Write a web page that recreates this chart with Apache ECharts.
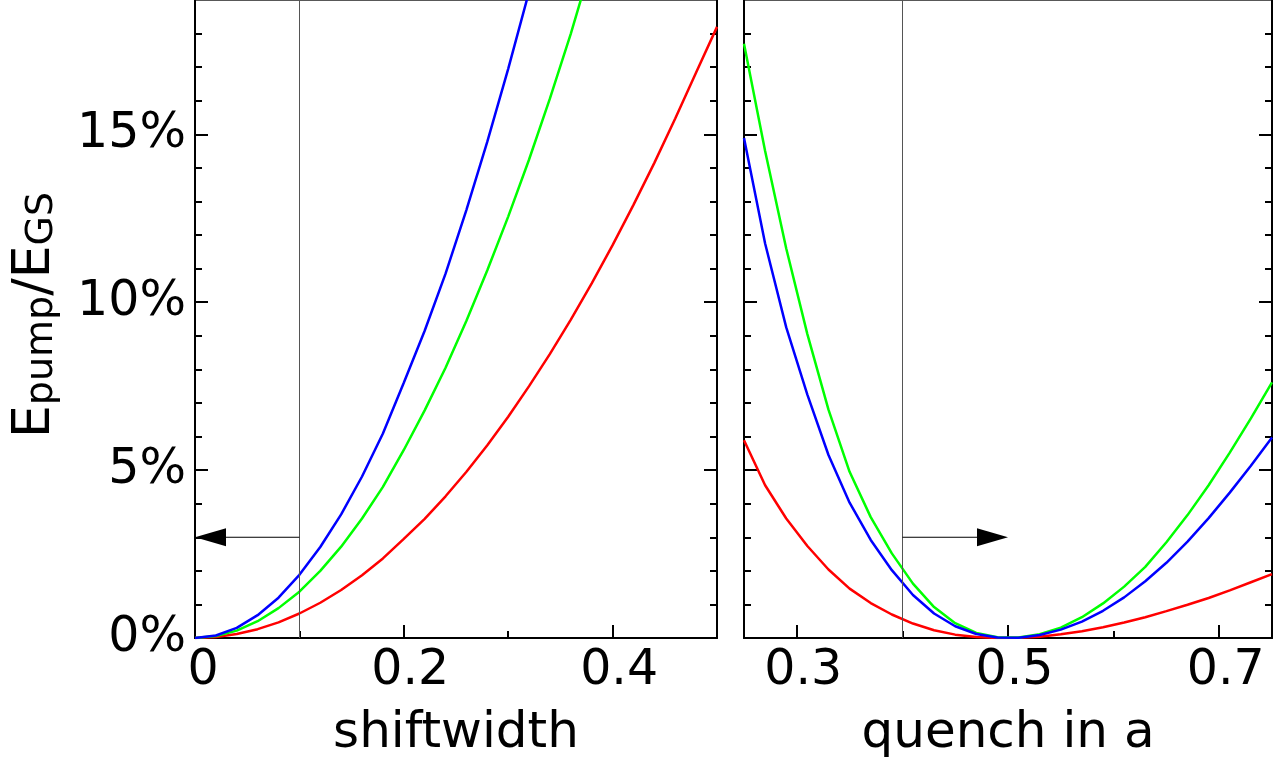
<!DOCTYPE html>
<html><head><meta charset="utf-8">
<script src="https://cdn.jsdelivr.net/npm/echarts@6/dist/echarts.min.js"></script>
<style>html,body{margin:0;padding:0;background:#fff}#c{width:1284px;height:763px}</style>
</head><body><div id="c"></div>
<script>
// ---- data ----
const shiftwidth = [0,0.02,0.04,0.06,0.08,0.10,0.12,0.14,0.16,0.18,0.20,0.22,0.24,0.26,0.28,0.30,0.32,0.34,0.36,0.38,0.40,0.42,0.44,0.46,0.48,0.50];
const blueShift  = [0,0.075,0.30,0.68,1.20,1.88,2.71,3.68,4.81,6.09,7.60,9.15,10.85,12.75,14.78,16.95,19.25,21.7];
const greenShift = [0,0.056,0.22,0.50,0.89,1.38,2.00,2.72,3.56,4.50,5.60,6.78,8.05,9.45,10.95,12.55,14.25,16.07,18.0,20.1];
const redShift   = [0,0.029,0.117,0.263,0.467,0.73,1.05,1.43,1.87,2.37,2.95,3.55,4.22,4.95,5.74,6.59,7.50,8.46,9.48,10.56,11.70,12.90,14.15,15.47,16.84,18.2];

const quench = [0.25,0.27,0.29,0.31,0.33,0.35,0.37,0.39,0.41,0.43,0.45,0.47,0.49,0.51,0.53,0.55,0.57,0.59,0.61,0.63,0.65,0.67,0.69,0.71,0.73,0.75];
const blueQuench  = [14.89,11.75,9.25,7.25,5.45,4.03,2.92,2.02,1.28,0.73,0.35,0.12,0.015,0.01,0.09,0.25,0.49,0.81,1.21,1.69,2.24,2.87,3.57,4.33,5.13,5.97];
const greenQuench = [17.7,14.5,11.6,9.05,6.8,4.95,3.6,2.52,1.62,0.92,0.44,0.15,0.02,0.013,0.11,0.31,0.62,1.03,1.53,2.12,2.85,3.66,4.55,5.52,6.54,7.61];
const redQuench   = [5.89,4.55,3.56,2.74,2.04,1.47,1.04,0.70,0.43,0.23,0.10,0.03,0.003,0.004,0.04,0.11,0.20,0.32,0.46,0.62,0.80,0.99,1.19,1.42,1.66,1.90];

const yMajor = [0,5,10,15];
const yMinor = [1,2,3,4,6,7,8,9,11,12,13,14,16,17,18];
const xLeftMajor = [0,0.2,0.4];
const xLeftMinor = [0.1,0.3,0.5];
const xRightMajor = [0.3,0.5,0.7];
const xRightMinor = [0.4,0.6];
const markLeft = 0.1, markRight = 0.4;
const arrowLeft  = [[0.1,3],[0,3]];
const arrowRight = [[0.4,3],[0.5,3]];
const xNameLeft = 'shiftwidth', xNameRight = 'quench in a';

// ---- chart ----
const FONT = 'DejaVu Sans';
const chart = echarts.init(document.getElementById('c'), null, {renderer:'canvas'});
const pairs = (xs, ys) => ys.map((v,i)=>[xs[i], v]);
const tickStyle = {color:'#000', width:2};
const labelRich = {
  z:{fontFamily:FONT, fontSize:49, color:'#000', padding:[0,0,0,16]},
  p:{fontFamily:FONT, fontSize:49, color:'#000', padding:[0,0,0,13]}
};

function xAxes(grid, min, max, major, minor, name, labelFmt){
  return [
    {gridIndex:grid, type:'value', min, max, position:'bottom',
     axisLine:{show:true, lineStyle:{color:'#000', width:2}},
     axisTick:{show:true, inside:true, length:13, customValues:major, lineStyle:tickStyle},
     axisLabel:{show:true, customValues:major, formatter:labelFmt, fontFamily:FONT, fontSize:49, color:'#000', margin:9, rich:labelRich},
     splitLine:{show:false},
     name, nameLocation:'middle', nameGap:71,
     nameTextStyle:{fontFamily:FONT, fontSize:50, color:'#000'}},
    {gridIndex:grid, type:'value', min, max, position:'bottom',
     axisLine:{show:false},
     axisTick:{show:true, inside:true, length:7, customValues:minor, lineStyle:tickStyle},
     axisLabel:{show:false}, splitLine:{show:false}}
  ];
}
function yAxes(grid, withLabels){
  const base = {gridIndex:grid, type:'value', min:0, max:19, splitLine:{show:false}};
  return [
    Object.assign({}, base, {position:'left',
      axisLine:{show:true, lineStyle:{color:'#000', width:2}},
      axisTick:{show:true, inside:true, length:13, customValues:yMajor, lineStyle:tickStyle},
      axisLabel:{show:withLabels, customValues:yMajor, formatter:v=>v+'%', fontFamily:FONT, fontSize:49, color:'#000', margin:9}}),
    Object.assign({}, base, {position:'left', axisLine:{show:false},
      axisTick:{show:true, inside:true, length:7, customValues:yMinor, lineStyle:tickStyle},
      axisLabel:{show:false}}),
    Object.assign({}, base, {position:'right',
      axisLine:{show:true, lineStyle:{color:'#000', width:2}},
      axisTick:{show:true, inside:true, length:13, customValues:yMajor, lineStyle:tickStyle},
      axisLabel:{show:false}}),
    Object.assign({}, base, {position:'right', axisLine:{show:false},
      axisTick:{show:true, inside:true, length:7, customValues:yMinor, lineStyle:tickStyle},
      axisLabel:{show:false}})
  ];
}
const fmtTick = v => { const r = Math.round(v*10); return r===0 ? '{z|0}' : '{p|' + (r/10).toFixed(1) + '}'; };

function line(name, color, data, xi, yi, mark){
  const s = {name, type:'line', data, xAxisIndex:xi, yAxisIndex:yi, showSymbol:false, symbol:'none',
    clip:true, lineStyle:{color, width:2.5}, itemStyle:{color}, z:3, animation:false};
  if (mark !== undefined) s.markLine = {silent:true, symbol:['none','none'], label:{show:false},
    lineStyle:{color:'#555', width:1, type:'solid'}, data:[{xAxis:mark}], animation:false};
  return s;
}

const option = {
  animation:false,
  backgroundColor:'#fff',
  textStyle:{fontFamily:FONT},
  grid:[
    {left:195, top:0, width:522, height:638, show:true, borderColor:'#222', borderWidth:1.5, containLabel:false, outerBoundsMode:'none'},
    {left:744, top:0, width:528, height:638, show:true, borderColor:'#222', borderWidth:1.5, containLabel:false, outerBoundsMode:'none'}
  ],
  xAxis:[
    ...xAxes(0, 0, 0.5, xLeftMajor, xLeftMinor, xNameLeft, fmtTick),
    ...xAxes(1, 0.25, 0.75, xRightMajor, xRightMinor, xNameRight, fmtTick)
  ],
  yAxis:[...yAxes(0,true), ...yAxes(1,false)],
  series:[
    line('red',   '#ff0000', pairs(shiftwidth, redShift),   0, 0, markLeft),
    line('green', '#00ff00', pairs(shiftwidth, greenShift), 0, 0),
    line('blue',  '#0000ff', pairs(shiftwidth, blueShift),  0, 0),
    line('red',   '#ff0000', pairs(quench, redQuench),      2, 4, markRight),
    line('green', '#00ff00', pairs(quench, greenQuench),    2, 4),
    line('blue',  '#0000ff', pairs(quench, blueQuench),     2, 4)
  ]
};
chart.setOption(option);

function arrow(gridIndex, seg){
  const p0 = chart.convertToPixel({gridIndex}, seg[0]);
  const p1 = chart.convertToPixel({gridIndex}, seg[1]);
  const dir = Math.sign(p1[0]-p0[0]);
  const L = 31, H = 9;
  const base = p1[0] - dir*L;
  return [
    {type:'line', shape:{x1:p0[0], y1:p0[1], x2:base, y2:p1[1]}, style:{stroke:'#000', lineWidth:1}, z:10, silent:true},
    {type:'polygon', shape:{points:[[p1[0],p1[1]],[base,p1[1]-H],[base,p1[1]+H]]}, style:{fill:'#000'}, z:10, silent:true}
  ];
}
chart.setOption({graphic:[
  ...arrow(0, arrowLeft),
  ...arrow(1, arrowRight),
  {type:'text', x:35, y:315, rotation:Math.PI/2, silent:true, z:10,
   style:{text:'{m|E}{s|pump}{m|/E}{s|GS}', align:'center', verticalAlign:'middle',
     rich:{
       m:{fontFamily:FONT, fontSize:52, lineHeight:52, verticalAlign:'top', fill:'#000'},
       s:{fontFamily:FONT, fontSize:38, lineHeight:38, verticalAlign:'bottom', padding:[24,0,0,0], fill:'#000'}
     }}}
]});
</script></body></html>
